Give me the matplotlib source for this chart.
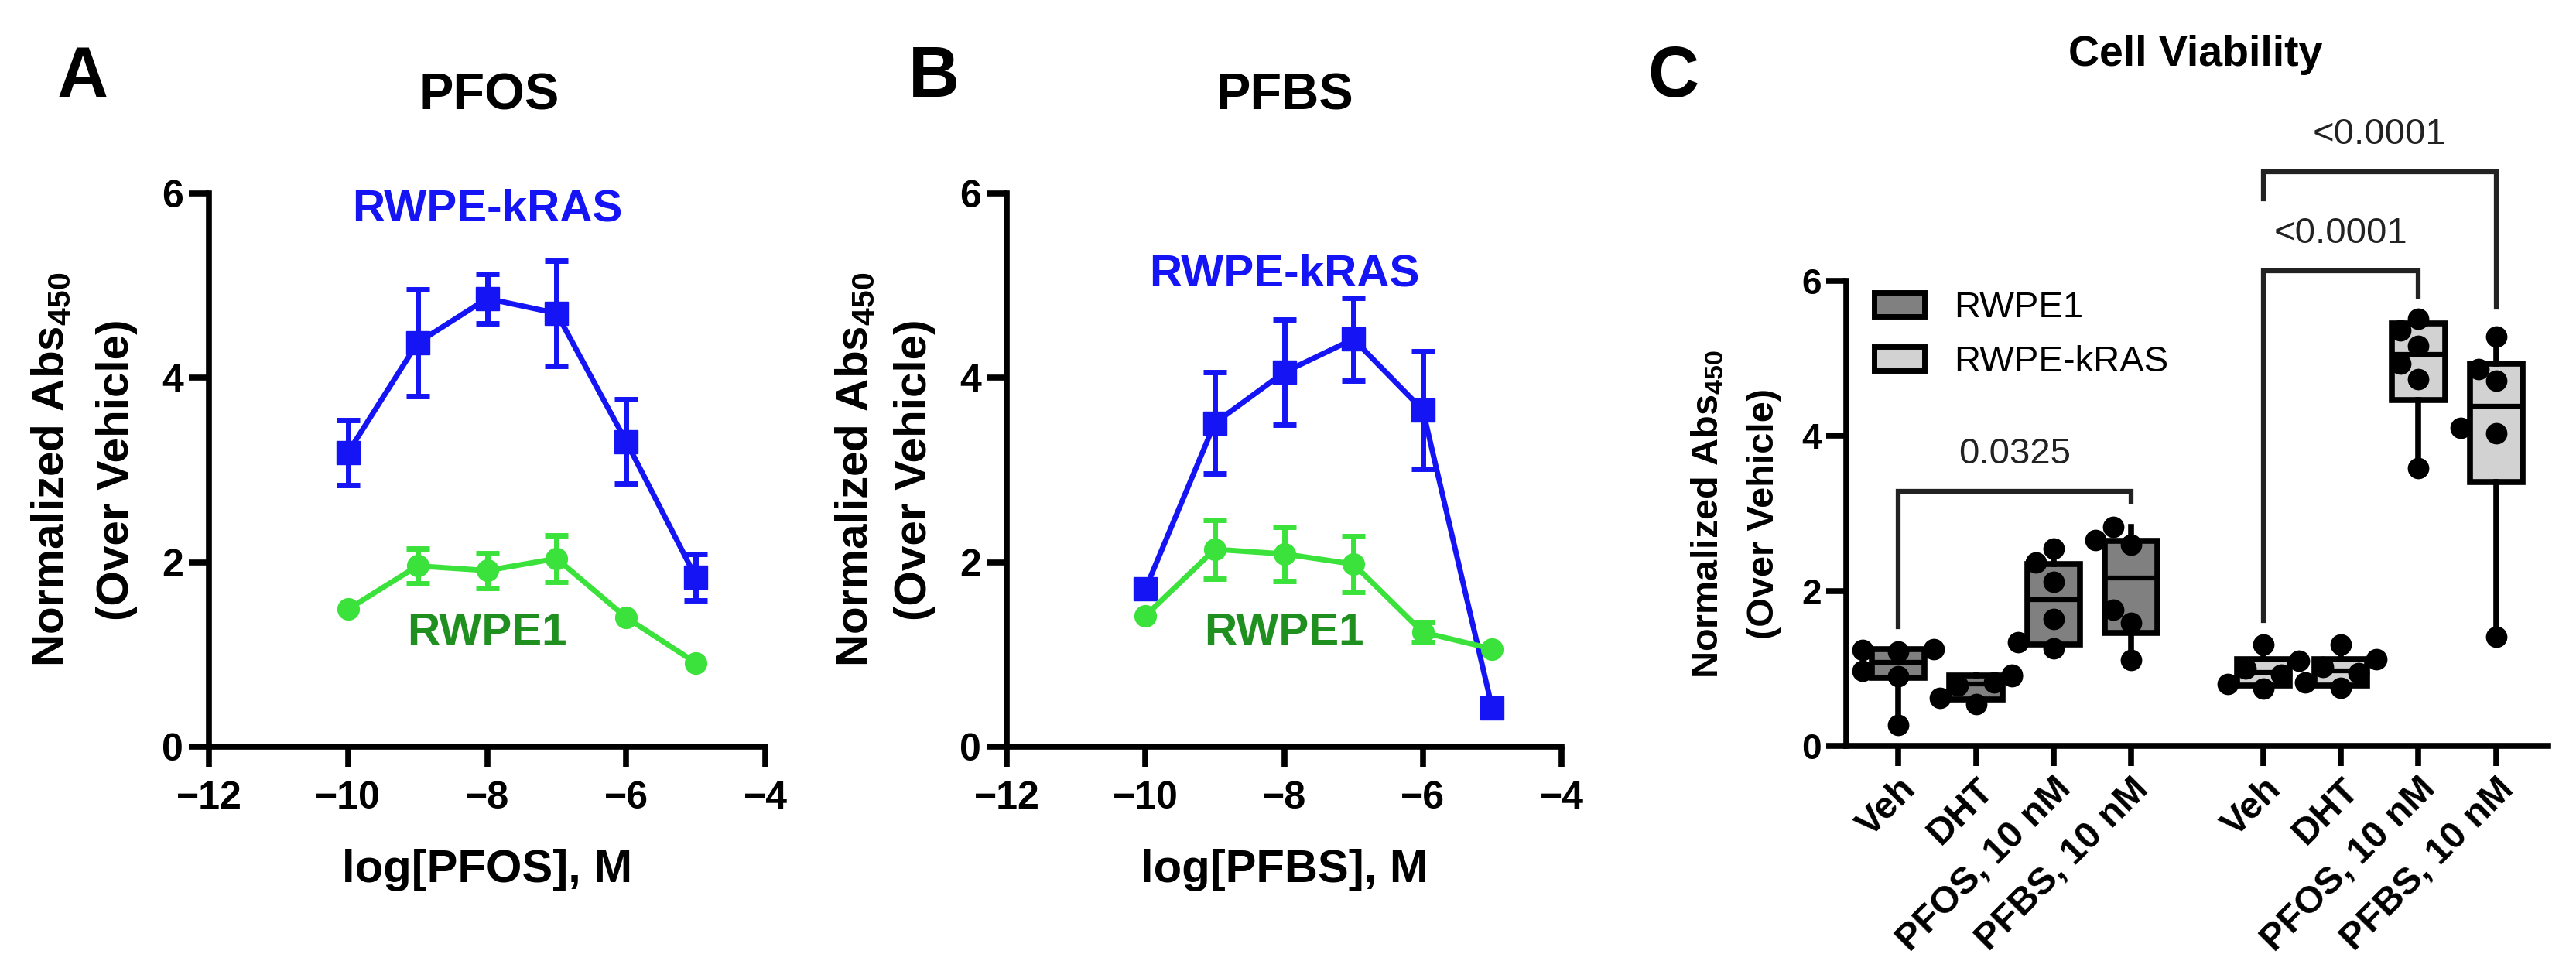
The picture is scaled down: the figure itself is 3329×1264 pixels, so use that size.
import matplotlib
matplotlib.use("Agg")
import matplotlib.pyplot as plt
from matplotlib.patches import Patch

plt.rcParams['font.family'] = ['Liberation Sans', 'DejaVu Sans']
plt.rcParams['font.weight'] = 'bold'
plt.rcParams['mathtext.fontset'] = 'custom'
plt.rcParams['mathtext.rm'] = 'Liberation Sans'
plt.rcParams['mathtext.bf'] = 'Liberation Sans:bold'
plt.rcParams['mathtext.default'] = 'rm'

# ---- data: dose response (mean, sem) ----
log_conc = [-10, -9, -8, -7, -6, -5]

pfos_kras_mean = [3.19, 4.38, 4.86, 4.70, 3.31, 1.84]
pfos_kras_sem = [0.35, 0.58, 0.27, 0.57, 0.46, 0.25]
pfos_rwpe1_mean = [1.49, 1.96, 1.91, 2.04, 1.40, 0.91]
pfos_rwpe1_sem = [0, 0.19, 0.19, 0.25, 0, 0]

pfbs_kras_mean = [1.71, 3.51, 4.06, 4.42, 3.65, 0.42]
pfbs_kras_sem = [0, 0.55, 0.57, 0.45, 0.64, 0]
pfbs_rwpe1_mean = [1.42, 2.14, 2.09, 1.98, 1.24, 1.06]
pfbs_rwpe1_sem = [0, 0.32, 0.29, 0.30, 0.11, 0]

# ---- data: cell viability box plots ----
treatments = ['Veh', 'DHT', 'PFOS, 10 nM', 'PFBS, 10 nM']
rwpe1_points = [[0.27, 0.90, 0.97, 1.22, 1.24, 1.25],
                [0.54, 0.62, 0.78, 0.82, 0.90, 0.92],
                [1.26, 1.34, 1.64, 2.12, 2.37, 2.55],
                [1.11, 1.59, 1.76, 2.60, 2.66, 2.83]]
rwpe1_q1 = [0.88, 0.60, 1.31, 1.46]
rwpe1_med = [1.08, 0.80, 1.89, 2.17]
rwpe1_q3 = [1.25, 0.91, 2.35, 2.65]

kras_points = [[0.74, 0.80, 0.92, 1.00, 1.10, 1.31],
               [0.75, 0.82, 0.94, 1.02, 1.12, 1.31],
               [3.58, 4.73, 4.93, 5.16, 5.36, 5.51],
               [1.41, 4.03, 4.10, 4.71, 4.86, 5.28]]
kras_q1 = [0.78, 0.78, 4.46, 3.40]
kras_med = [0.95, 0.97, 5.05, 4.38]
kras_q3 = [1.12, 1.12, 5.45, 4.93]

p_labels = ['0.0325', '<0.0001', '<0.0001']

# ---- figure ----
W, H = 3329, 1264
fig = plt.figure(figsize=(W / 100, H / 100), dpi=100)


def fx(px):
    return px / W


def fy(py):
    return 1 - py / H


BLUE = '#1414f5'
GREEN = '#3be23b'
DKGREEN = '#1f8f1f'
LW = 5.5


def style_axes(ax, lsize):
    for s in ['top', 'right']:
        ax.spines[s].set_visible(False)
    for s in ['left', 'bottom']:
        ax.spines[s].set_linewidth(LW)
    ax.tick_params(width=LW, length=19, labelsize=lsize)


def dose_panel(ax, kras_m, kras_e, r1_m, r1_e):
    ax.plot(log_conc, kras_m, '-s', color=BLUE, lw=5, ms=21, zorder=4, clip_on=False)
    ax.plot(log_conc, r1_m, '-o', color=GREEN, lw=5, ms=20, zorder=4, clip_on=False)
    for m, e, c in [(kras_m, kras_e, BLUE), (r1_m, r1_e, GREEN)]:
        xs = [x for x, ee in zip(log_conc, e) if ee > 0]
        ys = [y for y, ee in zip(m, e) if ee > 0]
        es = [ee for ee in e if ee > 0]
        ax.errorbar(xs, ys, yerr=es, fmt='none', ecolor=c, elinewidth=5,
                    capsize=11, capthick=5, zorder=3)
    ax.set_xlim(-12, -4)
    ax.set_ylim(0, 6)
    ax.set_xticks([-12, -10, -8, -6, -4])
    ax.set_yticks([0, 2, 4, 6])
    style_axes(ax, 36)
    ax.tick_params(axis='x', pad=13)
    ax.tick_params(axis='y', pad=5)


axA = fig.add_axes([fx(270), fy(965), 719 / W, 715 / H])
dose_panel(axA, pfos_kras_mean, pfos_kras_sem, pfos_rwpe1_mean, pfos_rwpe1_sem)
axA.text(-8, 5.83, 'RWPE-kRAS', color=BLUE, fontsize=42, ha='center', va='center')
axA.text(-8, 1.23, 'RWPE1', color=DKGREEN, fontsize=42, ha='center', va='center')

axB = fig.add_axes([fx(1301), fy(965), 717 / W, 715 / H])
dose_panel(axB, pfbs_kras_mean, pfbs_kras_sem, pfbs_rwpe1_mean, pfbs_rwpe1_sem)
axB.text(-8, 5.12, 'RWPE-kRAS', color=BLUE, fontsize=42, ha='center', va='center')
axB.text(-8, 1.23, 'RWPE1', color=DKGREEN, fontsize=42, ha='center', va='center')

# panel letters, titles, axis labels
fig.text(fx(107), fy(101), 'A', fontsize=66, ha='center', va='center')
fig.text(fx(1207), fy(101), 'B', fontsize=66, ha='center', va='center')
fig.text(fx(2162), fy(101), 'C', fontsize=66, ha='center', va='center')
fig.text(fx(632), fy(125), 'PFOS', fontsize=48, ha='center', va='center')
fig.text(fx(1660), fy(125), 'PFBS', fontsize=48, ha='center', va='center')
fig.text(fx(630), fy(1125), 'log[PFOS], M', fontsize=43, ha='center', va='center')
fig.text(fx(1660), fy(1125), 'log[PFBS], M', fontsize=43, ha='center', va='center')
for x1, x2 in [(67, 151), (1106, 1182)]:
    fig.text(fx(x1), fy(607), 'Normalized Abs$_{450}$', fontsize=42, rotation=90,
             ha='center', va='center')
    fig.text(fx(x2), fy(607), '(Over Vehicle)', fontsize=42, rotation=90,
             ha='center', va='center')

# ---- panel C ----
axC = fig.add_axes([fx(2386), fy(964), 907 / W, 601 / H])
pos1 = [0, 1, 2, 3]
pos2 = [4.7, 5.7, 6.7, 7.7]


def swarm(vals, step=0.23, d=0.27):
    placed = []
    offs = []
    for v in vals:
        for cand in [0, -step, step, -2 * step, 2 * step]:
            if all((cand - ox) ** 2 + (v - oy) ** 2 >= d ** 2 for ox, oy in placed):
                break
        placed.append((cand, v))
        offs.append(cand)
    return offs


for pts, q1, med, q3, pos, fc in [(rwpe1_points, rwpe1_q1, rwpe1_med, rwpe1_q3, pos1, '#808080'),
                                   (kras_points, kras_q1, kras_med, kras_q3, pos2, '#d2d2d2')]:
    stats = [{'whislo': min(p), 'q1': a, 'med': m, 'q3': b, 'whishi': max(p), 'fliers': []}
             for p, a, m, b in zip(pts, q1, med, q3)]
    axC.bxp(stats, positions=pos, widths=0.68, patch_artist=True, showcaps=False,
            showfliers=False,
            boxprops=dict(facecolor=fc, edgecolor='black', linewidth=LW),
            whiskerprops=dict(color='black', linewidth=LW),
            medianprops=dict(color='black', linewidth=4.5), zorder=2)
    for p, x in zip(pts, pos):
        offs = swarm(p)
        axC.scatter([x + o for o in offs], p, s=400, color='black', zorder=5,
                    linewidths=0, clip_on=False)

axC.set_xlim(-0.67, 8.37)
axC.set_ylim(0, 6)
axC.set_yticks([0, 2, 4, 6])
axC.set_xticks(pos1 + pos2)
axC.set_xticklabels(treatments + treatments, rotation=45, ha='right', va='top',
                    rotation_mode='anchor')
style_axes(axC, 33)
axC.tick_params(axis='x', pad=5, labelsize=35)
axC.tick_params(axis='y', pad=4)

# significance brackets
BR = '#222222'
brackets = [(0, 3, 3.28, 1.54, 3.15, 3.76),
            (4.7, 6.7, 6.13, 1.62, 5.80, 6.61),
            (4.7, 7.7, 7.41, 7.06, 5.66, 7.89)]
for (x1, x2, yb, yl, yr, yt), lab in zip(brackets, p_labels):
    axC.plot([x1, x1, x2, x2], [yl, yb, yb, yr], color=BR, lw=4.5, clip_on=False,
             solid_joinstyle='miter', zorder=3)
    axC.text((x1 + x2) / 2, yt, lab, fontsize=34, fontweight='normal', color='#222222',
             ha='center', va='center', clip_on=False)

handles = [Patch(facecolor='#808080', edgecolor='black', linewidth=5),
           Patch(facecolor='#d2d2d2', edgecolor='black', linewidth=5)]
axC.legend(handles, ['RWPE1', 'RWPE-kRAS'], loc='upper left',
           bbox_to_anchor=(fx(2422), fy(376)), bbox_transform=fig.transFigure,
           frameon=False, borderpad=0, borderaxespad=0, handlelength=1.38,
           handleheight=0.64, handletextpad=0.8, labelspacing=0.55,
           prop={'size': 34, 'weight': 'normal'})

fig.text(fx(2837), fy(71), 'Cell Viability', fontsize=40, ha='center', va='center')
fig.text(fx(2207), fy(664), 'Normalized Abs$_{450}$', fontsize=35, rotation=90,
         ha='center', va='center')
fig.text(fx(2280), fy(664), '(Over Vehicle)', fontsize=35, rotation=90,
         ha='center', va='center')

fig.savefig('out.png', dpi=100)
